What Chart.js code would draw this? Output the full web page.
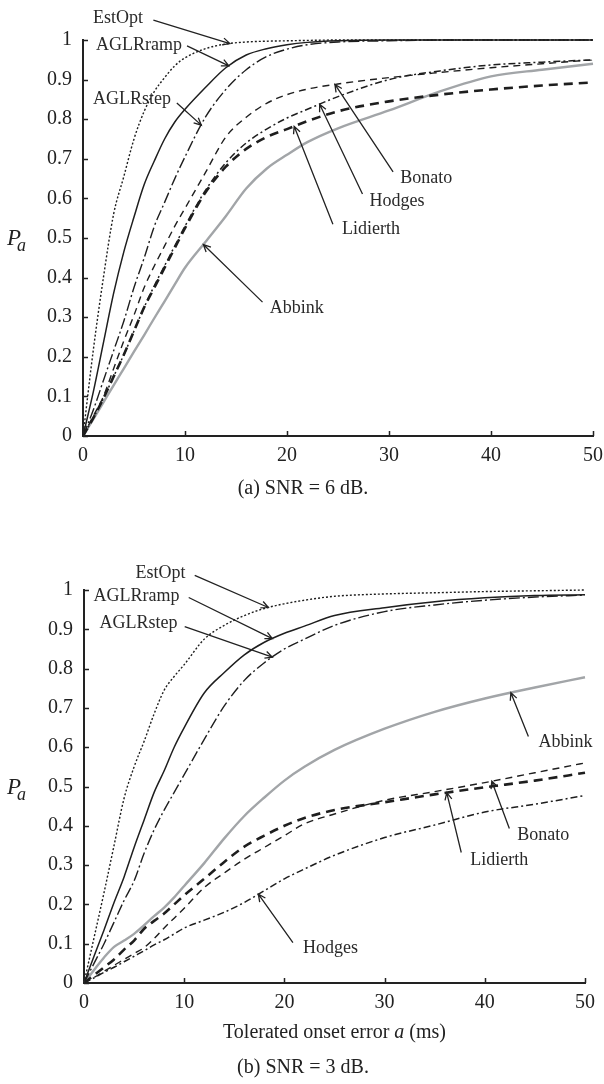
<!DOCTYPE html>
<html>
<head>
<meta charset="utf-8">
<script src="https://cdn.jsdelivr.net/npm/chart.js@4.4.1/dist/chart.umd.min.js"></script>
<style>
  html, body { margin: 0; padding: 0; background: #fff; }
  #wrap { position: relative; width: 604px; height: 1084px; }
  canvas { position: absolute; left: 0; }
  #snr6 { top: 0; }
  #snr3 { top: 546px; }
</style>
</head>
<body>
<div id="wrap">
  <canvas id="snr6" width="604" height="520"></canvas>
  <canvas id="snr3" width="604" height="538"></canvas>
</div>
<script>
// tolerated onset error a (ms) shared by every curve
const onsetError = [0, 1, 2, 3, 4, 5, 6, 7, 8, 9, 10, 12, 14, 16, 18, 20, 22, 25, 30, 35, 40, 45, 50]
const pTicks = [0, 0.1, 0.2, 0.3, 0.4, 0.5, 0.6, 0.7, 0.8, 0.9, 1]
const errTicks = [0, 10, 20, 30, 40, 50]

// (a) SNR = 6 dB
const estOpt6   = [0, 0.215, 0.4, 0.56, 0.655, 0.75, 0.82, 0.87, 0.905, 0.935, 0.955, 0.978, 0.99, 0.995, 0.997, 0.998, 0.999, 1, 1, 1, 1, 1, 1]
const aglrRamp6 = [0, 0.11, 0.235, 0.36, 0.465, 0.553, 0.635, 0.695, 0.75, 0.793, 0.825, 0.88, 0.93, 0.962, 0.978, 0.988, 0.994, 0.998, 1, 1, 1, 1, 1]
const aglrStep6 = [0, 0.065, 0.14, 0.215, 0.29, 0.375, 0.45, 0.53, 0.59, 0.65, 0.705, 0.805, 0.875, 0.925, 0.958, 0.977, 0.988, 0.995, 0.998, 1, 1, 1, 1]
const bonato6   = [0, 0.05, 0.1, 0.17, 0.24, 0.305, 0.375, 0.43, 0.48, 0.53, 0.575, 0.665, 0.755, 0.805, 0.84, 0.862, 0.876, 0.889, 0.905, 0.918, 0.93, 0.94, 0.95]
const hodges6   = [0, 0.045, 0.095, 0.15, 0.205, 0.265, 0.325, 0.38, 0.43, 0.48, 0.53, 0.62, 0.69, 0.74, 0.775, 0.803, 0.825, 0.857, 0.9, 0.922, 0.937, 0.944, 0.95]
const lidierth6 = [0, 0.045, 0.095, 0.15, 0.205, 0.265, 0.325, 0.375, 0.425, 0.475, 0.525, 0.615, 0.68, 0.725, 0.755, 0.775, 0.795, 0.82, 0.845, 0.862, 0.875, 0.885, 0.893]
const abbink6   = [0, 0.042, 0.085, 0.128, 0.17, 0.213, 0.255, 0.298, 0.34, 0.383, 0.425, 0.49, 0.555, 0.625, 0.675, 0.71, 0.742, 0.777, 0.822, 0.87, 0.908, 0.925, 0.94]

// (b) SNR = 3 dB
const estOpt3   = [0, 0.115, 0.23, 0.35, 0.47, 0.55, 0.615, 0.685, 0.745, 0.78, 0.81, 0.875, 0.91, 0.935, 0.953, 0.965, 0.974, 0.984, 0.99, 0.993, 0.996, 0.998, 1]
const aglrRamp3 = [0, 0.068, 0.135, 0.205, 0.27, 0.345, 0.415, 0.485, 0.54, 0.6, 0.65, 0.738, 0.79, 0.835, 0.867, 0.89, 0.908, 0.935, 0.955, 0.97, 0.98, 0.986, 0.988]
const aglrStep3 = [0, 0.05, 0.1, 0.155, 0.21, 0.26, 0.33, 0.39, 0.44, 0.485, 0.53, 0.62, 0.705, 0.77, 0.815, 0.85, 0.875, 0.91, 0.945, 0.962, 0.974, 0.982, 0.987]
const abbink3   = [0, 0.033, 0.065, 0.092, 0.108, 0.125, 0.147, 0.17, 0.192, 0.218, 0.247, 0.305, 0.368, 0.425, 0.472, 0.515, 0.55, 0.593, 0.647, 0.69, 0.724, 0.752, 0.778]
const bonato3   = [0, 0.014, 0.03, 0.045, 0.06, 0.075, 0.09, 0.113, 0.14, 0.165, 0.19, 0.243, 0.28, 0.315, 0.345, 0.375, 0.405, 0.43, 0.465, 0.487, 0.51, 0.535, 0.56]
const lidierth3 = [0, 0.02, 0.04, 0.06, 0.085, 0.108, 0.138, 0.158, 0.177, 0.2, 0.223, 0.265, 0.308, 0.347, 0.375, 0.4, 0.42, 0.44, 0.46, 0.48, 0.498, 0.515, 0.535]
const hodges3   = [0, 0.013, 0.027, 0.04, 0.054, 0.068, 0.082, 0.097, 0.11, 0.125, 0.14, 0.16, 0.18, 0.205, 0.235, 0.265, 0.29, 0.325, 0.37, 0.402, 0.435, 0.455, 0.477]

const ink = '#222'
const serif = '"Liberation Serif", "DejaVu Serif", serif'

const styles = {
  EstOpt:   { color: '#1e1e1e', width: 1.4, dash: [2, 2] },
  AGLRramp: { color: '#1e1e1e', width: 1.5, dash: [] },
  AGLRstep: { color: '#1e1e1e', width: 1.4, dash: [11, 3, 2, 3] },
  Bonato:   { color: '#1e1e1e', width: 1.4, dash: [7, 5] },
  Hodges:   { color: '#1e1e1e', width: 1.5, dash: [7, 3, 2, 3] },
  Lidierth: { color: '#1e1e1e', width: 2.6, dash: [9, 6] },
  Abbink:   { color: '#a2a5a8', width: 2.4, dash: [] },
}

// label text anchor (left, middle), arrow start, and the x where the arrow meets its curve
const notes6 = [
  { label: 'EstOpt',   text: [0.98, 1.056], from: [6.9, 1.05],  tip: 14.4 },
  { label: 'AGLRramp', text: [1.27, 0.987], from: [10.2, 0.985], tip: 14.3 },
  { label: 'AGLRstep', text: [0.98, 0.851], from: [9.2, 0.841], tip: 11.6 },
  { label: 'Bonato',   text: [31.1, 0.652], from: [30.4, 0.667], tip: 24.7 },
  { label: 'Hodges',   text: [28.1, 0.593], from: [27.4, 0.611], tip: 23.2 },
  { label: 'Lidierth', text: [25.4, 0.523], from: [24.5, 0.535], tip: 20.7 },
  { label: 'Abbink',   text: [18.3, 0.323], from: [17.6, 0.338], tip: 11.8 },
]
const notes3 = [
  { label: 'EstOpt',   text: [5.15, 1.042], from: [11.05, 1.037], tip: 18.4 },
  { label: 'AGLRramp', text: [0.95, 0.984], from: [10.45, 0.981], tip: 18.8 },
  { label: 'AGLRstep', text: [1.55, 0.915], from: [10.05, 0.907], tip: 18.8 },
  { label: 'Abbink',   text: [45.35, 0.612], from: [44.35, 0.627], tip: 42.6 },
  { label: 'Bonato',   text: [43.25, 0.376], from: [42.45, 0.393], tip: 40.7 },
  { label: 'Lidierth', text: [38.55, 0.312], from: [37.65, 0.332], tip: 36.2 },
  { label: 'Hodges',   text: [21.85, 0.088], from: [20.85, 0.103], tip: 17.4 },
]

const interp = (xs, ys, x) => {
  for (let i = 0; i < xs.length - 1; i++) {
    if (x <= xs[i + 1]) {
      const t = (x - xs[i]) / (xs[i + 1] - xs[i])
      return ys[i] + t * (ys[i + 1] - ys[i])
    }
  }
  return ys[ys.length - 1]
}

const decor = {
  id: 'paperDecor',
  afterDraw(chart, args, opts) {
    const { ctx, chartArea: a, scales: { x, y } } = chart
    ctx.save()

    // tick marks point into the plot
    ctx.strokeStyle = ink
    ctx.lineWidth = 1.5
    ctx.beginPath()
    pTicks.forEach(v => {
      const py = Math.round(y.getPixelForValue(v)) + 0.5
      ctx.moveTo(a.left, py); ctx.lineTo(a.left + 5, py)
    })
    errTicks.forEach(v => {
      const px = Math.round(x.getPixelForValue(v)) + 0.5
      ctx.moveTo(px, a.bottom); ctx.lineTo(px, a.bottom - 5)
    })
    ctx.stroke()

    // P_a
    const mid = y.getPixelForValue(0.5)
    ctx.fillStyle = ink
    ctx.textAlign = 'left'
    ctx.textBaseline = 'alphabetic'
    ctx.font = 'italic 23px ' + serif
    ctx.fillText('P', 7, mid + 7)
    ctx.font = 'italic 18px ' + serif
    ctx.fillText('a', 17, mid + 13)

    // curve names with arrows
    ctx.font = '18px ' + serif
    ctx.textBaseline = 'middle'
    ctx.lineWidth = 1.3
    opts.notes.forEach(n => {
      ctx.fillStyle = '#2a2a2a'
      ctx.fillText(n.label, x.getPixelForValue(n.text[0]), y.getPixelForValue(n.text[1]))
      const fx = x.getPixelForValue(n.from[0]), fy = y.getPixelForValue(n.from[1])
      const tx = x.getPixelForValue(n.tip)
      const ty = y.getPixelForValue(interp(onsetError, opts.series[n.label], n.tip))
      const ang = Math.atan2(ty - fy, tx - fx)
      ctx.beginPath()
      ctx.moveTo(fx, fy); ctx.lineTo(tx, ty)
      ctx.moveTo(tx - 8 * Math.cos(ang - 0.45), ty - 8 * Math.sin(ang - 0.45))
      ctx.lineTo(tx, ty)
      ctx.lineTo(tx - 8 * Math.cos(ang + 0.45), ty - 8 * Math.sin(ang + 0.45))
      ctx.stroke()
    })

    // x axis title with italic a
    ctx.fillStyle = ink
    if (opts.axisTitle) {
      ctx.font = '20px ' + serif
      const pre = 'Tolerated onset error ', post = ' (ms)'
      const w1 = ctx.measureText(pre).width, w3 = ctx.measureText(post).width
      ctx.font = 'italic 20px ' + serif
      const w2 = ctx.measureText('a').width
      let cx = (a.left + a.right) / 2 - (w1 + w2 + w3) / 2
      ctx.font = '20px ' + serif
      ctx.fillText(pre, cx, opts.axisTitleY)
      ctx.font = 'italic 20px ' + serif
      ctx.fillText('a', cx + w1, opts.axisTitleY)
      ctx.font = '20px ' + serif
      ctx.fillText(post, cx + w1 + w2, opts.axisTitleY)
    }

    // caption
    ctx.font = '20px ' + serif
    ctx.textAlign = 'center'
    ctx.fillText(opts.caption, 303, opts.captionY)
    ctx.restore()
  },
}

const drawPanel = (canvas, series, cfg) => {
  const datasets = Object.keys(series).map(name => ({
    label: name,
    data: onsetError.map((x, i) => ({ x, y: series[name][i] })),
    borderColor: styles[name].color,
    borderWidth: styles[name].width,
    borderDash: styles[name].dash,
    pointRadius: 0,
    cubicInterpolationMode: 'monotone',
    clip: false,
    order: name === 'Abbink' ? 1 : 0,
  }))

  new Chart(canvas, {
    type: 'line',
    data: { datasets },
    options: {
      responsive: false,
      animation: false,
      devicePixelRatio: 1,
      layout: { padding: { left: 0, top: cfg.top, right: cfg.right, bottom: cfg.bottom } },
      scales: {
        x: {
          type: 'linear', min: 0, max: 50,
          // fixed height, and let the end labels hang into the page margin
          afterFit: s => { s.height = 40; s.paddingLeft = 0; s.paddingRight = 0 },
          afterBuildTicks: s => { s.ticks = errTicks.map(value => ({ value })) },
          grid: { drawOnChartArea: false, drawTicks: false },
          border: { color: ink, width: 2 },
          ticks: { padding: 8, color: ink, font: { family: serif, size: 20 } },
        },
        y: {
          min: 0, max: 1,
          afterFit: s => { s.width = cfg.left },
          afterBuildTicks: s => { s.ticks = pTicks.map(value => ({ value })) },
          grid: { drawOnChartArea: false, drawTicks: false },
          border: { color: ink, width: 2 },
          ticks: {
            padding: 11, color: ink, font: { family: serif, size: 20 },
            callback: v => (v === 0 || v === 1) ? String(v) : v.toFixed(1),
          },
        },
      },
      plugins: {
        legend: { display: false },
        tooltip: { enabled: false },
        paperDecor: cfg.decor,
      },
    },
    plugins: [decor],
  })
}

const six = { EstOpt: estOpt6, AGLRramp: aglrRamp6, AGLRstep: aglrStep6, Bonato: bonato6, Hodges: hodges6, Lidierth: lidierth6, Abbink: abbink6 }
const three = { EstOpt: estOpt3, AGLRramp: aglrRamp3, AGLRstep: aglrStep3, Bonato: bonato3, Hodges: hodges3, Lidierth: lidierth3, Abbink: abbink3 }

drawPanel(document.getElementById('snr6'), six, {
  left: 83, top: 40, right: 11, bottom: 44,
  decor: { notes: notes6, series: six, caption: '(a) SNR = 6 dB.', captionY: 489 },
})
drawPanel(document.getElementById('snr3'), three, {
  left: 84, top: 44, right: 19, bottom: 61,
  decor: { notes: notes3, series: three, caption: '(b) SNR = 3 dB.', captionY: 522, axisTitle: true, axisTitleY: 487 },
})
</script>
</body>
</html>
